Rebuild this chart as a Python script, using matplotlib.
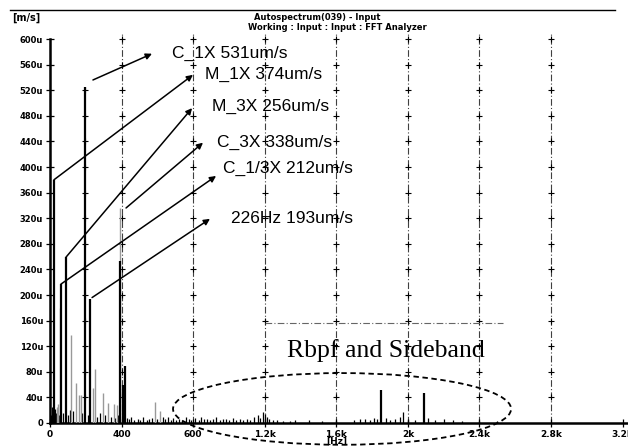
import matplotlib.pyplot as plt
from matplotlib.patches import Ellipse
from matplotlib.lines import Line2D

# main peaks (Hz, um/s)
main_freq = [22, 61, 89, 196, 224, 391, 408, 419, 1849, 2089]
main_amp = [380, 217, 259, 525, 194, 253, 60, 89, 52, 47]

# lighter secondary peaks
grey_freq = [39, 45, 56, 117, 145, 162, 173, 240, 251, 296, 324, 358, 374, 391, 587, 615]
grey_amp = [25, 30, 180, 137, 63, 44, 44, 55, 84, 47, 32, 30, 28, 336, 33, 19]

# noise floor
noise_freq = [5, 10, 15, 30, 35, 48, 75, 100, 110, 130, 180, 210, 260, 280, 310, 340, 365, 380,
              430, 440, 455, 470, 490, 505, 520, 540, 555, 570, 600, 630, 645, 660, 675, 690,
              705, 720, 740, 760, 775, 790, 810, 830, 845, 860, 880, 895, 910, 930, 950, 965,
              985, 1000, 1020, 1040, 1060, 1080, 1100, 1120, 1140, 1160, 1175, 1190, 1200, 1210,
              1225, 1245, 1270, 1300, 1340, 1369, 1450, 1520, 1600, 1700, 1732, 1760, 1790,
              1810, 1830, 1880, 1900, 1930, 1955, 1972, 2000, 2040, 2110, 2150, 2200, 2250,
              2300, 2400, 2500]
noise_amp = [12, 25, 18, 22, 15, 12, 15, 12, 20, 18, 15, 12, 10, 15, 12, 10, 8, 12,
             8, 6, 10, 4, 7, 5, 9, 5, 6, 8, 7, 9, 6, 10, 5, 8,
             4, 7, 5, 9, 6, 4, 8, 5, 10, 6, 7, 4, 6, 9, 5, 7,
             6, 4, 8, 5, 6, 4, 7, 5, 9, 12, 8, 17, 14, 10,
             6, 5, 4, 3, 3, 5, 4, 3, 3, 5, 6, 6, 5,
             8, 6, 8, 4, 6, 10, 17, 5, 4, 8, 5, 6, 4,
             3, 3, 3]

xticks = [0, 400, 800, 1200, 1600, 2000, 2400, 2800, 3200]
xlabels = ['0', '400', '600', '1.2k', '1.6k', '2k', '2.4k', '2.8k', '3.2k']
yticks = list(range(0, 601, 40))
ylabels = ['0'] + ['%du' % v for v in yticks[1:]]
grid_x = [400, 800, 1200, 1600, 2000, 2400, 2800]

labels = ['C_1X 531um/s', 'M_1X 374um/s', 'M_3X 256um/s',
          'C_3X 338um/s', 'C_1/3X 212um/s', '226Hz 193um/s']
arrow_from = [(240, 536), (22, 380), (89, 259), (425, 336), (61, 217), (235, 196)]
arrow_to = [(570, 577), (799, 544), (794, 492), (855, 438), (928, 386), (894, 319)]
label_pos = [(682, 578), (866, 544), (905, 494), (933, 439), (967, 398), (1012, 320)]

fig = plt.figure(figsize=(6.28, 4.46), dpi=100)
ax = fig.add_axes([50 / 628, 23 / 446, 578 / 628, 0.8753])
ax.set_xlim(0, 3230)
ax.set_ylim(0, 610)

# grid lines with + marks
for gx in grid_x:
    ax.axvline(gx, color='0.25', lw=0.8, ls=(0, (6, 2, 1, 2)), zorder=1)
    ax.plot([gx] * 15, yticks[1:], ls='none', marker='+', ms=5, mew=0.8, color='k', zorder=2)
ax.plot([196] * 13, yticks[1:14], ls='none', marker='+', ms=5, mew=0.8, color='k', zorder=2)

ax.vlines(noise_freq, 0, noise_amp, color='k', lw=0.9, zorder=3)
ax.vlines(grey_freq, 0, grey_amp, color='0.6', lw=1.0, zorder=3)
ax.vlines(main_freq, 0, main_amp, color='k', lw=1.6, zorder=4)

# annotations
for txt, a, b, p in zip(labels, arrow_from, arrow_to, label_pos):
    ax.annotate('', xy=b, xytext=a,
                arrowprops=dict(arrowstyle='-|>', color='k', lw=1.1, mutation_scale=9,
                                shrinkA=0, shrinkB=0))
    ax.text(p[0], p[1], txt, fontsize=12.5, family='Liberation Sans', va='center', ha='left')

ax.plot([1200, 2532], [156, 156], color='0.4', lw=0.8, ls=(0, (6, 2, 1, 2)))
ax.text(1325, 114, 'Rbpf and Sideband', fontsize=18.5, family='Liberation Serif',
        va='center', ha='left')
ax.add_patch(Ellipse((1632, 22), 1889, 112, fill=False, ls=(0, (3, 2)), lw=1.3,
                     color='k', clip_on=False, zorder=6))

# axes style
for s in ['top', 'right']:
    ax.spines[s].set_visible(False)
ax.spines['left'].set_bounds(0, 600)
ax.spines['left'].set_linewidth(1.8)
ax.spines['bottom'].set_linewidth(1.8)
ax.set_xticks(xticks)
ax.set_xticklabels(xlabels, fontsize=6.5, fontweight='bold')
ax.set_yticks(yticks)
ax.set_yticklabels(ylabels, fontsize=6, fontweight='bold')
ax.tick_params(direction='inout', length=6, width=0.9, pad=2)
ax.text(1600, -28, '[Hz]', fontsize=6.5, fontweight='bold', ha='center', va='center')

# header
fig.text(12 / 628, 1 - 18 / 446, '[m/s]', fontsize=7, fontweight='bold', va='center')
fig.text(317 / 628, 1 - 17 / 446, 'Autospectrum(039) - Input', fontsize=6,
         fontweight='bold', ha='center', va='center')
fig.text(337 / 628, 1 - 27 / 446, 'Working : Input : Input : FFT Analyzer', fontsize=6,
         fontweight='bold', ha='center', va='center')
fig.add_artist(Line2D([10 / 628, 615 / 628], [1 - 10 / 446, 1 - 10 / 446], color='k', lw=1))

fig.savefig('out.png', dpi=100)
